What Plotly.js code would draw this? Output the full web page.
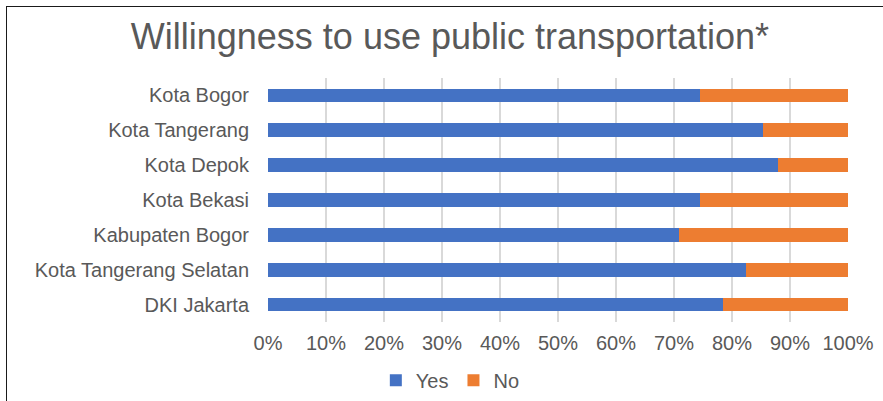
<!DOCTYPE html>
<html>
<head>
<meta charset="utf-8">
<script src="https://cdn.plot.ly/plotly-3.0.1.min.js"></script>
<style>
  html, body { margin:0; padding:0; background:#fff; }
  #wrap { position:relative; width:883px; height:401px; overflow:hidden; }
  #chart { width:883px; height:401px; }
  #frame { position:absolute; left:6px; top:6px; right:-5px; bottom:-5px;
           border-left:1.5px solid #1a1a1a; border-top:1.5px solid #1a1a1a; pointer-events:none; }
</style>
</head>
<body>
<div id="wrap">
  <div id="chart"></div>
  <div id="frame"></div>
</div>
<script>
const categories = ["Kota Bogor", "Kota Tangerang", "Kota Depok", "Kota Bekasi",
                    "Kabupaten Bogor", "Kota Tangerang Selatan", "DKI Jakarta"];
const yesValues = [0.744, 0.854, 0.880, 0.744, 0.709, 0.824, 0.784];
const noValues  = [0.256, 0.146, 0.120, 0.256, 0.291, 0.176, 0.216];
const tickVals = [0, 0.1, 0.2, 0.3, 0.4, 0.5, 0.6, 0.7, 0.8, 0.9, 1.0];
const tickText = ["0%", "10%", "20%", "30%", "40%", "50%", "60%", "70%", "80%", "90%", "100%"];

const font = "Liberation Sans, Arial, sans-serif";
const grey = "#595959";

const data = [
  { type:"bar", orientation:"h", name:"Yes", y:categories, x:yesValues,
    marker:{ color:"#4472C4" }, hoverinfo:"x+y" },
  { type:"bar", orientation:"h", name:"No", y:categories, x:noValues,
    marker:{ color:"#ED7D31" }, hoverinfo:"x+y" }
];

const layout = {
  width:883, height:401,
  paper_bgcolor:"#ffffff", plot_bgcolor:"#ffffff",
  barmode:"stack", bargap:0.61,
  margin:{ l:268, r:35, t:78, b:79, pad:0 },
  title:{ text:"Willingness to use public transportation*",
          font:{ family:font, size:36, color:grey },
          x:0.5096, xref:"container", xanchor:"center",
          y:0.908, yref:"container", yanchor:"middle" },
  xaxis:{ range:[0,1], tickvals:tickVals, ticktext:tickText,
          showgrid:true, gridcolor:"#d9d9d9", gridwidth:1.5,
          zeroline:false, showline:false, ticks:"",
          ticklabelstandoff:7,
          tickfont:{ family:font, size:20, color:grey }, fixedrange:true },
  yaxis:{ type:"category", autorange:"reversed", showgrid:false, zeroline:false,
          showline:false, ticks:"", ticklabelstandoff:18,
          tickfont:{ family:font, size:20, color:grey }, fixedrange:true },
  showlegend:true,
  legend:{ orientation:"h", x:0.51, xref:"container", xanchor:"center",
           y:0.052, yref:"container", yanchor:"middle",
           font:{ family:font, size:20, color:grey },
           itemwidth:30, traceorder:"normal" }
};

Plotly.newPlot("chart", data, layout, { displayModeBar:false, staticPlot:true });
</script>
</body>
</html>
